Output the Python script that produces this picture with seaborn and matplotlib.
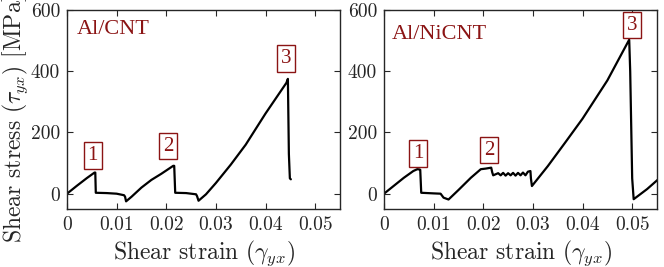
import matplotlib
matplotlib.use("Agg")
from matplotlib import pyplot as plt
import seaborn as sns
import pandas as pd

# Al/CNT curve (strain, stress in MPa)
cnt_strain = [0.0, 0.0020, 0.0040, 0.00555, 0.0057, 0.0058, 0.0080, 0.0100, 0.0115, 0.0117, 0.0119,
              0.0130, 0.0150, 0.0170, 0.0190, 0.0214, 0.0216, 0.0218, 0.0240, 0.0260, 0.0262, 0.0265,
              0.0280, 0.0300, 0.0330, 0.0360, 0.0400, 0.0442, 0.0445, 0.0447, 0.0449, 0.0451]
cnt_stress = [0, 26, 51, 69, 69, 3, 2, 0, -5, -10, -25,
              -10, 20, 45, 65, 91, 91, 3, 2, -2, -8, -23,
              -2, 35, 95, 160, 262, 362, 375, 130, 50, 47]

# Al/NiCNT curve
ni_strain = [0.0, 0.0020, 0.0040, 0.0059, 0.0067, 0.0072, 0.0073, 0.0075, 0.0100, 0.0114, 0.0120, 0.0130,
             0.0150, 0.0175, 0.0195, 0.0205, 0.0216, 0.0218, 0.0220, 0.0230, 0.0235, 0.0240, 0.0245,
             0.0250, 0.0255, 0.0260, 0.0265, 0.0270, 0.0275, 0.0280, 0.0285, 0.0290, 0.0295, 0.0296,
             0.0298, 0.0330, 0.0365, 0.0400, 0.0450, 0.0494, 0.0496, 0.0500, 0.0503, 0.0530, 0.0556]
ni_stress = [0, 26, 52, 74, 80, 79, 78, 3, 1, 0, -13, -19,
             12, 52, 80, 82, 85, 70, 60, 67, 60, 68, 59,
             67, 60, 68, 59, 68, 60, 69, 60, 72, 74, 50,
             25, 90, 167, 245, 370, 503, 400, 50, -18, 15, 52]

labels = ["Al/CNT", "Al/NiCNT"]
events = ["1", "2", "3"]
cnt_event_x = [0.0052, 0.0204, 0.0441]
cnt_event_y = [125, 155, 442]
ni_event_x = [0.0069, 0.0212, 0.0500]
ni_event_y = [132, 142, 551]

sns.set_style("ticks")
plt.rcParams['font.family'] = ['cmr10', 'DejaVu Serif']
plt.rcParams['mathtext.fontset'] = 'cm'
plt.rcParams['axes.unicode_minus'] = False

red = '#8b1414'
fig = plt.figure(figsize=(6.64, 2.67), dpi=100)
ax1 = fig.add_axes([67/664, 1-209/267, 273/664, 199/267])
ax2 = fig.add_axes([384/664, 1-209/267, 273/664, 199/267])

curves = [(cnt_strain, cnt_stress, cnt_event_x, cnt_event_y),
          (ni_strain, ni_stress, ni_event_x, ni_event_y)]
label_pos = [(0.002, 535), (0.0016, 520)]

for ax, (xs, ys, ex, ey), lab, lp in zip([ax1, ax2], curves, labels, label_pos):
    df = pd.DataFrame({"strain": xs, "stress": ys})
    sns.lineplot(data=df, x="strain", y="stress", sort=False, estimator=None,
                 color='k', linewidth=1.6, ax=ax)
    ax.set_xlim(0, 0.055)
    ax.set_ylim(-50, 600)
    ax.set_xticks([0, 0.01, 0.02, 0.03, 0.04, 0.05])
    ax.set_xticklabels(["0", "0.01", "0.02", "0.03", "0.04", "0.05"])
    ax.set_yticks([0, 200, 400, 600])
    ax.tick_params(direction='in', top=True, right=True, labelsize=14,
                   length=4, width=0.8, colors='#262626', pad=5)
    for s in ax.spines.values():
        s.set_linewidth(1.0)
        s.set_color('#262626')
    ax.set_xlabel(r"Shear strain $(\gamma_{yx})$", fontsize=17, labelpad=3)
    ax.set_ylabel("")
    ax.text(lp[0], lp[1], lab, family=['Liberation Serif'], color=red,
            fontsize=16, va='center', ha='left')
    for t, x, y in zip(events, ex, ey):
        ax.text(x, y, t, family=['Liberation Serif'], color=red, fontsize=15,
                ha='center', va='center',
                bbox=dict(boxstyle='square,pad=0.18', fc='white', ec=red, lw=1.0))

ax1.set_ylabel(r"Shear stress $(\tau_{yx})$ [MPa]", fontsize=17)
ax1.yaxis.set_label_coords(-0.135, 0.45)

plt.savefig("out.png", dpi=100)
